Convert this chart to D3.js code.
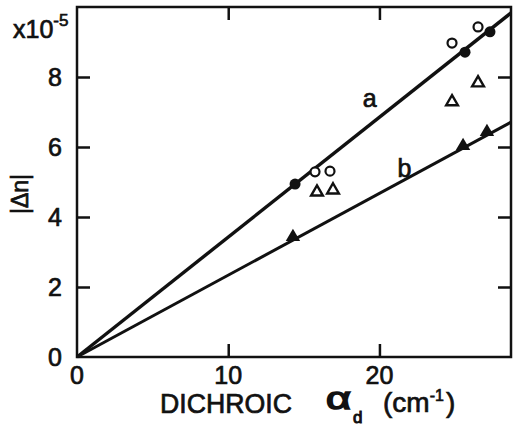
<!DOCTYPE html>
<html>
<head>
<meta charset="utf-8">
<script src="https://cdn.jsdelivr.net/npm/d3@7"></script>
<style>
  body { margin: 0; background: #fff; }
  text { font-family: "Liberation Sans", Arial, sans-serif; fill: #111; stroke: #111; stroke-width: 0.7px; }
</style>
</head>
<body>
<div id="chart"></div>
<script>
// values (x: cm^-1, y: |dn| x 1e-5)
const xTicks = [0, 10, 20];
const yTicks = [0, 2, 4, 6, 8];
const lineA = [[0, 0], [28.7, 9.83]];
const lineB = [[0, 0], [28.7, 6.71]];
const filledCircles = [[14.42, 4.94], [25.66, 8.71], [27.31, 9.29]];
const openCircles = [[15.74, 5.29], [16.73, 5.31], [24.80, 8.97], [26.52, 9.43]];
const openTriangles = [[15.87, 4.71], [16.93, 4.77], [24.80, 7.29], [26.52, 7.83]];
const filledTriangles = [[14.28, 3.43], [25.53, 6.03], [27.11, 6.43]];

const W = 513, H = 426;
const margin = {top: 7, right: 2, bottom: 69, left: 77};
const width = W - margin.left - margin.right;
const height = H - margin.top - margin.bottom;

const svg = d3.select("#chart").append("svg")
    .attr("width", W)
    .attr("height", H);
const g = svg.append("g")
    .attr("transform", `translate(${margin.left},${margin.top})`);

const x = d3.scaleLinear().domain([0, 28.7]).range([0, width]);
const y = d3.scaleLinear().domain([0, 10]).range([height, 0]);

// frame
g.append("rect")
    .attr("width", width).attr("height", height)
    .attr("fill", "none").attr("stroke", "#111").attr("stroke-width", 2.5);

// inward ticks on all sides
const tickLen = 13;
g.append("g").attr("transform", `translate(0,${height})`)
    .call(d3.axisBottom(x).tickValues(xTicks.filter(d => d > 0)).tickSize(-tickLen).tickFormat(""))
    .call(a => a.select(".domain").remove());
g.append("g")
    .call(d3.axisTop(x).tickValues(xTicks.filter(d => d > 0)).tickSize(-tickLen).tickFormat(""))
    .call(a => a.select(".domain").remove());
g.append("g")
    .call(d3.axisLeft(y).tickValues(yTicks.filter(d => d > 0)).tickSize(-tickLen).tickFormat(""))
    .call(a => a.select(".domain").remove());
g.append("g").attr("transform", `translate(${width},0)`)
    .call(d3.axisRight(y).tickValues(yTicks.filter(d => d > 0)).tickSize(-tickLen).tickFormat(""))
    .call(a => a.select(".domain").remove());
g.selectAll(".tick line").attr("stroke", "#111").attr("stroke-width", 2.5);

// tick labels
g.selectAll(".xlab").data(xTicks).enter().append("text")
    .attr("x", d => x(d)).attr("y", height + 27)
    .attr("text-anchor", "middle").attr("font-size", 25)
    .text(d => d);
g.selectAll(".ylab").data(yTicks).enter().append("text")
    .attr("x", -15).attr("y", d => y(d) + 9)
    .attr("text-anchor", "end").attr("font-size", 25)
    .text(d => d);

// fitted lines
const line = d3.line().x(d => x(d[0])).y(d => y(d[1]));
g.append("path").datum(lineA).attr("d", line)
    .attr("fill", "none").attr("stroke", "#111").attr("stroke-width", 3.4);
g.append("path").datum(lineB).attr("d", line)
    .attr("fill", "none").attr("stroke", "#111").attr("stroke-width", 3);

// markers
g.selectAll(".fc").data(filledCircles).enter().append("circle")
    .attr("cx", d => x(d[0])).attr("cy", d => y(d[1])).attr("r", 5.5)
    .attr("fill", "#111");
g.selectAll(".oc").data(openCircles).enter().append("circle")
    .attr("cx", d => x(d[0])).attr("cy", d => y(d[1])).attr("r", 4.5)
    .attr("fill", "#fff").attr("stroke", "#111").attr("stroke-width", 2.2);
g.selectAll(".ot").data(openTriangles).enter().append("path")
    .attr("d", d3.symbol().type(d3.symbolTriangle).size(60))
    .attr("transform", d => `translate(${x(d[0])},${y(d[1])})`)
    .attr("fill", "#fff").attr("stroke", "#111").attr("stroke-width", 2.4);
g.selectAll(".ft").data(filledTriangles).enter().append("path")
    .attr("d", d3.symbol().type(d3.symbolTriangle).size(90))
    .attr("transform", d => `translate(${x(d[0])},${y(d[1])})`)
    .attr("fill", "#111");

// curve labels
g.append("text").attr("x", x(18.9)).attr("y", y(7.15)).attr("font-size", 25).text("a");
g.append("text").attr("x", x(21.2)).attr("y", y(5.15)).attr("font-size", 25).text("b");

// axis titles
svg.append("text").attr("x", 160).attr("y", 413).attr("font-size", 27)
    .attr("textLength", 132).attr("lengthAdjust", "spacingAndGlyphs")
    .text("DICHROIC");
svg.append("text").attr("x", 326).attr("y", 409).attr("font-size", 32)
    .attr("textLength", 25).attr("lengthAdjust", "spacingAndGlyphs")
    .style("stroke-width", "1.6px")
    .text("α");
svg.append("text").attr("x", 353).attr("y", 423).attr("font-size", 17)
    .style("stroke-width", "1px").text("d");
const ct = svg.append("text").attr("x", 383).attr("y", 412).attr("font-size", 28);
ct.append("tspan").text("(cm");
ct.append("tspan").attr("dy", -11).attr("font-size", 16).text("-1");
ct.append("tspan").attr("dy", 11).attr("dx", 2).text(")");

svg.append("text")
    .attr("transform", "translate(28,194) rotate(-90)")
    .attr("text-anchor", "middle").attr("font-size", 23)
    .text("|Δn|");

const st = svg.append("text").attr("x", 13).attr("y", 38).attr("font-size", 25);
st.append("tspan").text("x10");
st.append("tspan").attr("dy", -12).attr("font-size", 17).text("-5");
</script>
</body>
</html>
